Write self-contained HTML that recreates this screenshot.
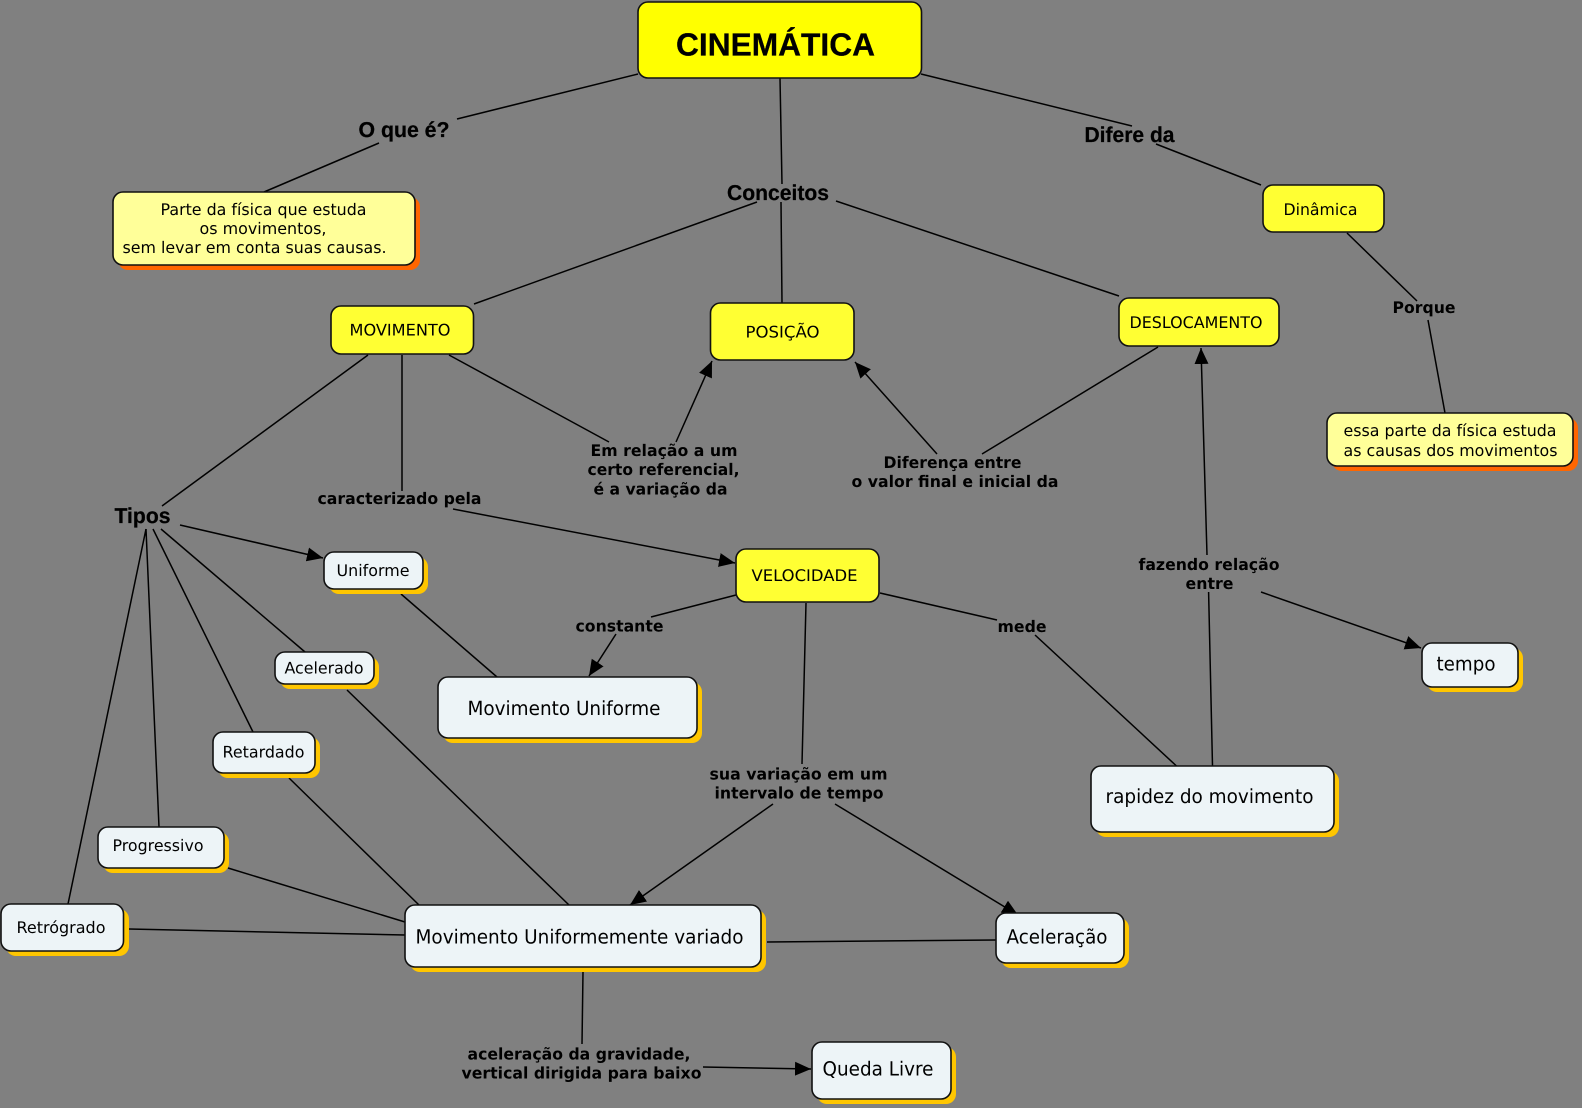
<!DOCTYPE html>
<html lang="pt">
<head>
<meta charset="utf-8">
<title>Cinemática</title>
<style>
html,body{margin:0;padding:0;background:#808080;width:1582px;height:1108px;overflow:hidden}
svg{display:block}
.l{stroke:#000;stroke-width:1.5;fill:none}
.a{stroke:#000;stroke-width:1.5;fill:none;marker-end:url(#h)}
.n{stroke:#111;stroke-width:1.6}
.s{stroke:none}
text{fill:#000;font-family:"DejaVu Sans",sans-serif;font-size:16px;text-rendering:geometricPrecision}
.b{font-weight:bold;font-size:16px}
.t{font-family:"Liberation Sans",sans-serif;font-weight:bold;font-size:21.5px;stroke:#000;stroke-width:.25}
.m{font-size:19.5px}
</style>
</head>
<body>
<svg width="1582" height="1108" viewBox="0 0 1582 1108" xmlns="http://www.w3.org/2000/svg">
<defs>
<marker id="h" markerUnits="userSpaceOnUse" markerWidth="17" markerHeight="15" refX="16" refY="7" orient="auto">
<path d="M0,0 L16,7 L0,14 Z" fill="#000"/>
</marker>
</defs>
<rect width="1582" height="1108" fill="#808080"/>

<!-- connectors -->
<line class="l" x1="638" y1="74" x2="457" y2="119"/>
<line class="l" x1="379" y1="143" x2="264" y2="192"/>
<line class="l" x1="780" y1="78" x2="782" y2="184"/>
<line class="l" x1="781" y1="202" x2="782" y2="303"/>
<line class="l" x1="757" y1="202" x2="474" y2="304"/>
<line class="l" x1="836" y1="201" x2="1119" y2="296"/>
<line class="l" x1="921" y1="74" x2="1132" y2="126"/>
<line class="l" x1="1156" y1="144" x2="1261" y2="185"/>
<line class="l" x1="1347" y1="233" x2="1417" y2="301"/>
<line class="l" x1="1428" y1="320" x2="1445" y2="413"/>
<line class="l" x1="368" y1="355" x2="162" y2="506"/>
<line class="l" x1="402" y1="355" x2="402" y2="491"/>
<line class="l" x1="449" y1="355" x2="609" y2="442"/>
<line class="a" x1="676" y1="442" x2="712" y2="361"/>
<line class="a" x1="937" y1="454" x2="855" y2="362"/>
<line class="l" x1="982" y1="454" x2="1158" y2="347"/>
<line class="a" x1="1207" y1="555" x2="1201" y2="348"/>
<line class="l" x1="1212.5" y1="766" x2="1208.6" y2="592"/>
<line class="a" x1="1261" y1="592" x2="1421" y2="648"/>
<line class="a" x1="453" y1="509" x2="735" y2="563"/>
<line class="l" x1="736" y1="595" x2="651" y2="617"/>
<line class="a" x1="616" y1="634" x2="589" y2="676"/>
<line class="l" x1="401" y1="594" x2="497" y2="677"/>
<line class="l" x1="880" y1="593" x2="997" y2="620"/>
<line class="l" x1="1035" y1="635" x2="1176.5" y2="766"/>
<line class="l" x1="806" y1="603" x2="802" y2="764"/>
<line class="a" x1="773" y1="804" x2="630" y2="905"/>
<line class="a" x1="835" y1="804" x2="1018" y2="915"/>
<line class="a" x1="180" y1="525" x2="323" y2="558"/>
<line class="l" x1="161" y1="529" x2="305" y2="652"/>
<line class="l" x1="153" y1="529" x2="253" y2="732"/>
<line class="l" x1="146" y1="529" x2="159" y2="827"/>
<line class="l" x1="146" y1="529" x2="68" y2="904"/>
<line class="l" x1="347" y1="690" x2="569" y2="905"/>
<line class="l" x1="289" y1="778" x2="419" y2="905"/>
<line class="l" x1="228" y1="868" x2="405" y2="922"/>
<line class="l" x1="129" y1="929" x2="405" y2="935"/>
<line class="l" x1="767" y1="942" x2="996" y2="940"/>
<line class="l" x1="583" y1="972" x2="582" y2="1044"/>
<line class="a" x1="703" y1="1067" x2="811" y2="1069"/>

<!-- shadows -->
<g class="s" fill="#ff6600">
<rect x="118" y="197" width="302" height="73" rx="10"/>
<rect x="1332" y="418" width="246" height="53" rx="10"/>
</g>
<g class="s" fill="#ffc600">
<rect x="329" y="557" width="99" height="37" rx="10"/>
<rect x="280" y="657" width="99" height="32" rx="10"/>
<rect x="218" y="737" width="102" height="41" rx="10"/>
<rect x="103" y="832" width="126" height="41" rx="10"/>
<rect x="6" y="909" width="123" height="47" rx="10"/>
<rect x="443" y="682" width="259" height="61" rx="10"/>
<rect x="410" y="910" width="356" height="62" rx="10"/>
<rect x="1001" y="918" width="128" height="50" rx="10"/>
<rect x="817" y="1047" width="139" height="57" rx="10"/>
<rect x="1096" y="771" width="243" height="66" rx="10"/>
<rect x="1427" y="648" width="96" height="44" rx="10"/>
</g>

<!-- nodes -->
<rect class="n" fill="#ffff00" x="638" y="2" width="283.5" height="76" rx="10"/>
<g class="n" fill="#ffff99">
<rect x="113" y="192" width="302" height="73" rx="10"/>
<rect x="1327" y="413" width="246" height="53" rx="10"/>
</g>
<g class="n" fill="#ffff33">
<rect x="331" y="306" width="142.5" height="48" rx="10"/>
<rect x="710.5" y="303" width="143.5" height="57" rx="10"/>
<rect x="1119" y="298" width="160" height="48" rx="10"/>
<rect x="1263" y="185" width="121" height="47" rx="10"/>
<rect x="736" y="549" width="143" height="53" rx="10"/>
</g>
<g class="n" fill="#edf4f7">
<rect x="324" y="552" width="99" height="37" rx="10"/>
<rect x="275" y="652" width="99" height="32" rx="10"/>
<rect x="213" y="732" width="102" height="41" rx="10"/>
<rect x="98" y="827" width="126" height="41" rx="10"/>
<rect x="1" y="904" width="122.500" height="47" rx="10"/>
<rect x="438" y="677" width="259" height="61" rx="10"/>
<rect x="405" y="905" width="356" height="62" rx="10"/>
<rect x="996" y="913" width="128" height="50" rx="10"/>
<rect x="812" y="1042" width="139" height="57" rx="10"/>
<rect x="1091" y="766" width="243" height="66" rx="10"/>
<rect x="1422" y="643" width="96" height="44" rx="10"/>
</g>

<!-- node text -->
<text class="t" style="font-size:32px" x="676" y="55.500" textLength="199" lengthAdjust="spacingAndGlyphs">CINEMÁTICA</text>
<text x="160.500" y="215" textLength="206" lengthAdjust="spacingAndGlyphs">Parte da física que estuda</text>
<text x="199.500" y="234" textLength="127" lengthAdjust="spacingAndGlyphs">os movimentos,</text>
<text x="122.500" y="253" textLength="264" lengthAdjust="spacingAndGlyphs">sem levar em conta suas causas.</text>
<text x="1343.500" y="436" textLength="213" lengthAdjust="spacingAndGlyphs">essa parte da física estuda</text>
<text x="1343.500" y="456" textLength="214" lengthAdjust="spacingAndGlyphs">as causas dos movimentos</text>
<text x="349.500" y="335.500" textLength="101" lengthAdjust="spacingAndGlyphs">MOVIMENTO</text>
<text x="745.500" y="337.500" textLength="74" lengthAdjust="spacingAndGlyphs">POSIÇÃO</text>
<text x="1129.500" y="328" textLength="133" lengthAdjust="spacingAndGlyphs">DESLOCAMENTO</text>
<text x="1283.500" y="215" textLength="74" lengthAdjust="spacingAndGlyphs">Dinâmica</text>
<text x="751.500" y="581" textLength="106" lengthAdjust="spacingAndGlyphs">VELOCIDADE</text>
<text x="336.500" y="576" textLength="73" lengthAdjust="spacingAndGlyphs">Uniforme</text>
<text x="284.500" y="673.500" textLength="79" lengthAdjust="spacingAndGlyphs">Acelerado</text>
<text x="222.500" y="757.500" textLength="82" lengthAdjust="spacingAndGlyphs">Retardado</text>
<text x="112.500" y="851" textLength="91" lengthAdjust="spacingAndGlyphs">Progressivo</text>
<text x="16.500" y="933" textLength="89" lengthAdjust="spacingAndGlyphs">Retrógrado</text>
<text class="m" x="467.500" y="715" textLength="193" lengthAdjust="spacingAndGlyphs">Movimento Uniforme</text>
<text class="m" x="415.500" y="943.500" textLength="328" lengthAdjust="spacingAndGlyphs">Movimento Uniformemente variado</text>
<text class="m" x="1006.500" y="943.500" textLength="101" lengthAdjust="spacingAndGlyphs">Aceleração</text>
<text class="m" x="822.500" y="1075.500" textLength="111" lengthAdjust="spacingAndGlyphs">Queda Livre</text>
<text class="m" x="1105.500" y="803" textLength="208" lengthAdjust="spacingAndGlyphs">rapidez do movimento</text>
<text class="m" x="1436.500" y="670.500" textLength="59" lengthAdjust="spacingAndGlyphs">tempo</text>

<!-- link labels -->
<text class="t" x="358.500" y="137" textLength="91" lengthAdjust="spacingAndGlyphs">O que é?</text>
<text class="t" x="727" y="200" textLength="102" lengthAdjust="spacingAndGlyphs">Conceitos</text>
<text class="t" x="1084.500" y="142" textLength="90" lengthAdjust="spacingAndGlyphs">Difere da</text>
<text class="t" x="114.500" y="523" textLength="56" lengthAdjust="spacingAndGlyphs">Tipos</text>
<text class="b" x="1392.500" y="313" textLength="63" lengthAdjust="spacingAndGlyphs">Porque</text>
<text class="b" x="590.500" y="456" textLength="147" lengthAdjust="spacingAndGlyphs">Em relação a um</text>
<text class="b" x="587.500" y="475" textLength="152" lengthAdjust="spacingAndGlyphs">certo referencial,</text>
<text class="b" x="593.500" y="494.500" textLength="134" lengthAdjust="spacingAndGlyphs">é a variação da</text>
<text class="b" x="883.500" y="468" textLength="138" lengthAdjust="spacingAndGlyphs">Diferença entre</text>
<text class="b" x="851.500" y="487" textLength="207" lengthAdjust="spacingAndGlyphs">o valor final e inicial da</text>
<text class="b" x="317.500" y="504" textLength="164" lengthAdjust="spacingAndGlyphs">caracterizado pela</text>
<text class="b" x="575.500" y="631.500" textLength="88" lengthAdjust="spacingAndGlyphs">constante</text>
<text class="b" x="997.500" y="632" textLength="49" lengthAdjust="spacingAndGlyphs">mede</text>
<text class="b" x="1138.500" y="570" textLength="141" lengthAdjust="spacingAndGlyphs">fazendo relação</text>
<text class="b" x="1185.500" y="589" textLength="48" lengthAdjust="spacingAndGlyphs">entre</text>
<text class="b" x="709.500" y="779.500" textLength="178" lengthAdjust="spacingAndGlyphs">sua variação em um</text>
<text class="b" x="714.500" y="798.500" textLength="169" lengthAdjust="spacingAndGlyphs">intervalo de tempo</text>
<text class="b" x="467.500" y="1059.500" textLength="223" lengthAdjust="spacingAndGlyphs">aceleração da gravidade,</text>
<text class="b" x="461.500" y="1078.500" textLength="240" lengthAdjust="spacingAndGlyphs">vertical dirigida para baixo</text>
</svg>
</body>
</html>
